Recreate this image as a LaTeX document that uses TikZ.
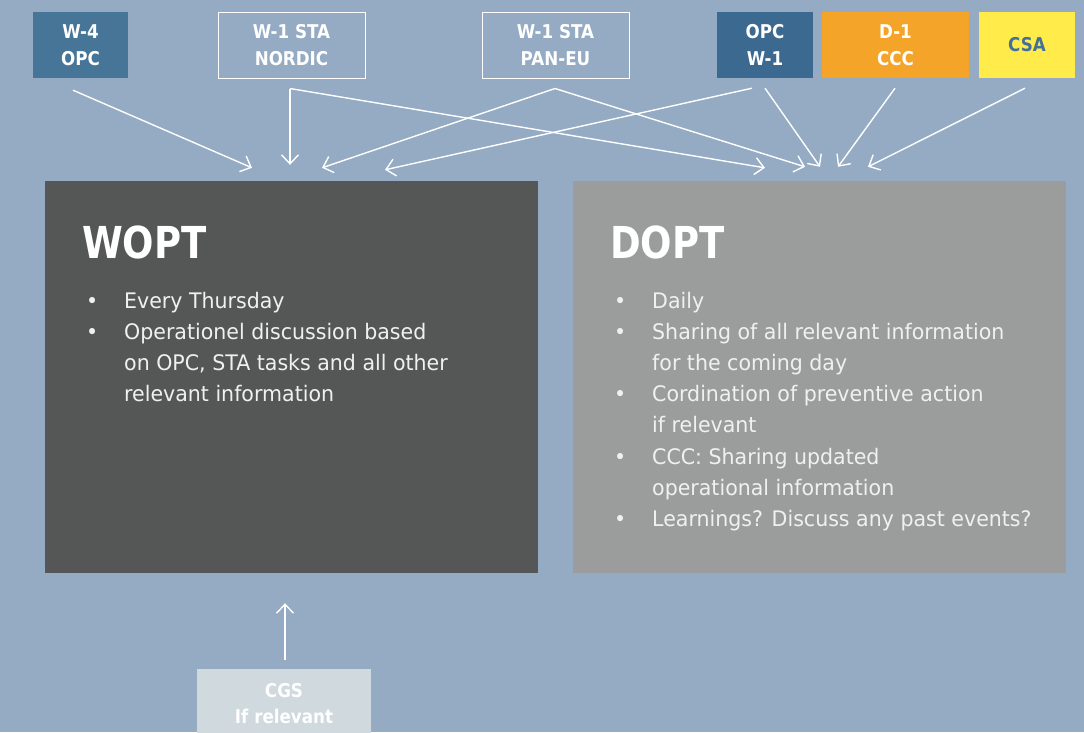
\documentclass[tikz,border=0pt]{standalone}
\usepackage{fontspec}
\setmainfont{DejaVu Sans}[FakeStretch=0.88]
\newfontfamily\bodyfont{DejaVu Sans}[FakeStretch=0.96]
\newfontfamily\headfont{DejaVu Sans}[FakeStretch=0.84]
\usetikzlibrary{arrows.meta}
\definecolor{sky}{HTML}{94ABC3}
\definecolor{steel}{HTML}{467597}
\definecolor{steeldark}{HTML}{3C6990}
\definecolor{amber}{HTML}{F5A42A}
\definecolor{lemon}{HTML}{FFEC4A}
\definecolor{lemontext}{HTML}{42709A}
\definecolor{slate}{HTML}{555756}
\definecolor{stone}{HTML}{9B9D9C}
\definecolor{mist}{HTML}{D0D9DD}
\tikzset{
  topbox/.style={minimum height=66pt,inner sep=0pt,align=center,text=white,font=\fontsize{19}{27}\selectfont\bfseries},
  solidbox/.style={topbox,fill=#1},
  linebox/.style={topbox,draw=white,line width=1pt},
  panel/.style={minimum width=493pt,minimum height=392pt,inner sep=0pt},
  title/.style={anchor=base west,inner sep=0pt,text=white,font=\headfont\fontsize{44}{50}\selectfont\bfseries},
  body/.style={anchor=base west,inner sep=0pt,text=white!94!black,font=\bodyfont\fontsize{21.4}{31.2}\selectfont},
  feed/.style={-{Straight Barb[length=9pt,width=17pt]},draw=white,line width=1.4pt}
}

\begin{document}
\begin{tikzpicture}[x=1pt,y=-1pt]
        \useasboundingbox (0,0) rectangle (1084,732);
        \clip (0,0) rectangle (1084,732);
        \fill[sky] (0,0) rectangle (1084,732);

        % inputs along the top
        \node[solidbox=steel,minimum width=95pt] (w4) at (80.5,45) {W-4\\OPC};
        \node[linebox,minimum width=147pt] (nordic) at (291.5,45) {W-1 STA\\NORDIC};
        \node[linebox,minimum width=147pt] (paneu) at (555.5,45) {W-1 STA\\PAN-EU};
        \node[solidbox=steeldark,minimum width=96pt] (opcw) at (765,45) {OPC\\W-1};
        \node[solidbox=amber,minimum width=147pt] (ccc) at (895.5,45) {D-1\\CCC};
        \node[solidbox=lemon,minimum width=96pt,text=lemontext] (csa) at (1027,45) {CSA};

        % the two meetings
        \node[panel,fill=slate] (wopt) at (291.5,377) {};
        \node[panel,fill=stone] (dopt) at (819.5,377) {};

        \node[title] (woptT) at (82,258) {WOPT};
        \node[body] (woptL) at (86,308) {\begin{tabular}[t]{@{}p{38pt}@{}l@{}}
          • & Every Thursday\\
          • & Operationel discussion based\\
            & on OPC, STA tasks and all other\\
            & relevant information
        \end{tabular}};

        \node[title] (doptT) at (610,258) {DOPT};
        \node[body] (doptL) at (614,308) {\begin{tabular}[t]{@{}p{38pt}@{}l@{}}
          • & Daily\\
          • & Sharing of all relevant information\\
            & for the coming day\\
          • & Cordination of preventive action\\
            & if relevant\\
          • & CCC: Sharing updated\\
            & operational information\\
          • & Learnings? Discuss any past events?
        \end{tabular}};

        \node[topbox,fill=mist,minimum width=174pt,minimum height=70pt,font=\fontsize{19}{26}\selectfont\bfseries] (cgs) at (284,704) {CGS\\If relevant};

        % feeds into WOPT / DOPT
        \coordinate (nordicOut) at ([xshift=-1.5pt,yshift=-10pt]nordic.south);
        \coordinate (paneuOut) at ([xshift=-0.5pt,yshift=-10pt]paneu.south);
        \draw[feed] ([xshift=-7.5pt,yshift=-12pt]w4.south) -- ([xshift=-39.5pt,yshift=13pt]wopt.north);
        \draw[feed] (nordicOut) -- ([xshift=-1.5pt,yshift=16pt]wopt.north);
        \draw[feed] (nordicOut) -- ([xshift=-54.5pt,yshift=13pt]dopt.north);
        \draw[feed] (paneuOut) -- ([xshift=30.5pt,yshift=13pt]wopt.north);
        \draw[feed] (paneuOut) -- ([xshift=-14.5pt,yshift=14pt]dopt.north);
        \draw[feed] ([xshift=-13pt,yshift=-10pt]opcw.south) -- ([xshift=93.5pt,yshift=11pt]wopt.north);
        \draw[feed] ([yshift=-10pt]opcw.south) -- ([xshift=0.5pt,yshift=14pt]dopt.north);
        \draw[feed] ([xshift=-0.5pt,yshift=-10pt]ccc.south) -- ([xshift=18.5pt,yshift=14pt]dopt.north);
        \draw[feed] ([xshift=-2pt,yshift=-10pt]csa.south) -- ([xshift=48.5pt,yshift=14pt]dopt.north);
        \draw[feed] ([xshift=1pt,yshift=9pt]cgs.north) -- ([xshift=-6.5pt,yshift=-30pt]wopt.south);
      \end{tikzpicture}
\end{document}
